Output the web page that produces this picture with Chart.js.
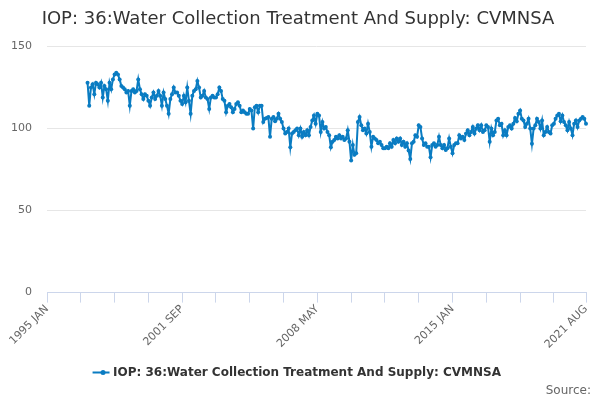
<!DOCTYPE html>
<html>
<head>
<meta charset="utf-8">
<script src="https://cdn.jsdelivr.net/npm/chart.js@4/dist/chart.umd.min.js"></script>
<style>
  html, body { margin: 0; padding: 0; background: #fff; }
  #wrap { width: 600px; height: 400px; position: relative; }
</style>
</head>
<body>
<div id="wrap"><canvas id="chart"></canvas></div>
<script>
const SERIES_NAME = 'IOP: 36:Water Collection Treatment And Supply: CVMNSA';
const MONTHS = ['JAN', 'FEB', 'MAR', 'APR', 'MAY', 'JUN', 'JUL', 'AUG', 'SEP', 'OCT', 'NOV', 'DEC'];
const AXIS_START = 1995;       // first category on the axis
const DATA_START = 1997;       // first month with a value
const LAST_YEAR = 2021;
const LAST_MONTH = 8;          // AUG
const TICK_LABELS = ['1995 JAN', '2001 SEP', '2008 MAY', '2015 JAN', '2021 AUG'];
const Y_TICKS = [0, 50, 100, 150];

// monthly index values, 1997 JAN .. 2021 AUG
const VALUES = [
  128, 114, 125, 127, 121, 128, 127, 125, 128, 119, 126, 124, // 1997
  117, 128, 124, 130, 133, 134, 133, 130, 126, 125, 124, 122, // 1998
  123, 114, 123, 124, 122, 123, 130, 124, 121, 118, 121, 120, // 1999
  117, 114, 119, 122, 118, 120, 123, 120, 114, 122, 118, 114, // 2000
  109, 118, 121, 125, 122, 122, 120, 117, 115, 120, 116, 125, // 2001
  117, 109, 120, 123, 124, 129, 125, 119, 120, 123, 119, 118, // 2002
  112, 119, 120, 119, 119, 121, 125, 123, 118, 117, 110, 114, // 2003
  115, 113, 110, 112, 115, 116, 114, 110, 111, 110, 109, 109, // 2004
  112, 111, 100, 113, 114, 110, 114, 114, 104, 106, 106.5, 107, // 2005
  95, 106, 107, 104.5, 106, 109, 106, 104, 100, 97, 98, 100,  // 2006
  88.6, 97, 98, 99, 100, 96, 100, 95, 98, 96, 99, 96,         // 2007
  101, 105, 108, 103, 109, 108, 98, 104, 100, 101, 98, 96,    // 2008
  88.6, 92, 93, 95, 94, 96, 94, 95, 93, 94, 99, 92,           // 2009
  80.5, 90, 84, 85, 104, 107, 102, 99, 100, 97, 103, 98,      // 2010
  89, 95, 94, 93, 91, 92, 90, 88, 88, 89, 88, 91,             // 2011
  89, 93, 91, 94, 92, 94, 90, 92, 89, 91, 86.6, 81.5,         // 2012
  91, 92, 96, 95, 102, 101, 94, 90, 91, 89, 89, 82.5,         // 2013
  90, 91, 89, 90, 95, 90, 88, 90, 87, 88, 94, 89,             // 2014
  85, 90, 91, 91, 96, 94, 95, 93, 97, 99, 96, 98,             // 2015
  101, 97, 100, 102, 99, 102, 98, 99, 102, 101, 92, 100,      // 2016
  96, 98, 105, 106, 102, 103, 96, 99, 96, 101, 102, 100,      // 2017
  103, 106.5, 104.5, 109, 111, 106, 105, 101, 103, 106, 100, 90.7, // 2018
  100, 102, 106, 104, 100, 105, 96, 98, 101, 98, 97, 102,     // 2019
  103, 106, 108, 109, 104.5, 108, 104, 102, 99, 104, 100, 96, // 2020
  103, 105, 101, 105, 106, 107, 106, 103,                     // 2021
];

const labels = [];
for (let y = AXIS_START; y <= LAST_YEAR; y++) {
  for (let m = 0; m < 12; m++) {
    if (y === LAST_YEAR && m >= LAST_MONTH) break;
    labels.push(`${y} ${MONTHS[m]}`);
  }
}
const lead = (DATA_START - AXIS_START) * 12;
const data = labels.map((_, i) => (i < lead ? null : VALUES[i - lead]));

const LINE = '#0a7cc2';
const FONT = 'DejaVu Sans';
const lastIdx = labels.length - 1;
const isMajor = (i) => i % 20 === 0 || i === lastIdx;

// small dot in the middle of the legend line, like the original's marker symbol
const legendDot = {
  id: 'legendDot',
  afterDraw(chart) {
    const box = chart.legend && chart.legend.legendHitBoxes && chart.legend.legendHitBoxes[0];
    if (!box) return;
    const { ctx } = chart;
    const bw = chart.options.plugins.legend.labels.boxWidth;
    ctx.save();
    ctx.fillStyle = LINE;
    ctx.beginPath();
    ctx.arc(box.left + bw / 2, box.top + box.height / 2, 2.5, 0, Math.PI * 2);
    ctx.fill();
    ctx.restore();
  },
};

new Chart(document.getElementById('chart'), {
  type: 'line',
  data: {
    labels,
    datasets: [{
      label: SERIES_NAME,
      data,
      borderColor: LINE,
      backgroundColor: LINE,
      borderWidth: 2,
      pointRadius: 2,
      pointHoverRadius: 3,
      pointBorderWidth: 0,
      tension: 0,
    }],
  },
  plugins: [legendDot],
  options: {
    responsive: true,
    maintainAspectRatio: false,
    animation: false,
    layout: { padding: { left: 5, right: 9, top: 0, bottom: 0 } },
    plugins: {
      title: {
        display: true,
        text: SERIES_NAME,
        color: '#333333',
        font: { family: FONT, size: 18, weight: 'normal' },
        padding: { top: 9, bottom: 16 },
      },
      subtitle: {
        display: true,
        text: 'Source:',
        position: 'bottom',
        align: 'end',
        color: '#666666',
        font: { family: FONT, size: 12, weight: 'normal' },
        padding: { top: -5, bottom: 2 },
      },
      legend: {
        position: 'bottom',
        labels: {
          color: '#333333',
          font: { family: FONT, size: 12, weight: 'bold' },
          usePointStyle: true,
          pointStyle: 'line',
          boxWidth: 16,
          padding: 5,
          generateLabels: (chart) =>
            Chart.defaults.plugins.legend.labels.generateLabels(chart).map((it) => ({
              ...it, lineWidth: 2, strokeStyle: LINE, pointStyle: 'line',
            })),
        },
      },
      tooltip: { enabled: false },
    },
    scales: {
      x: {
        type: 'category',
        offset: false,
        border: { display: true, color: '#ccd6eb' },
        grid: {
          drawOnChartArea: false,
          drawTicks: true,
          tickLength: 10,
          tickColor: (ctx) => (isMajor(ctx.index) ? '#ccd6eb' : 'rgba(0,0,0,0)'),
        },
        ticks: {
          autoSkip: false,
          maxRotation: 45,
          minRotation: 45,
          padding: 0,
          color: '#666666',
          font: { family: FONT, size: 11 },
          callback: (v, i) => (TICK_LABELS.includes(labels[i]) ? labels[i] : ''),
        },
        afterFit: (scale) => {
          scale.height = 69;
          scale.paddingLeft = 40;
          scale.paddingRight = 14;
        },
      },
      y: {
        min: 0,
        max: 150,
        afterBuildTicks: (axis) => { axis.ticks = Y_TICKS.map((v) => ({ value: v })); },
        afterFit: (scale) => { scale.width = 42; },
        border: { display: false },
        grid: { color: '#e6e6e6', drawTicks: false },
        ticks: {
          padding: 15,
          color: '#666666',
          font: { family: FONT, size: 11 },
        },
      },
    },
  },
});
</script>
</body>
</html>
